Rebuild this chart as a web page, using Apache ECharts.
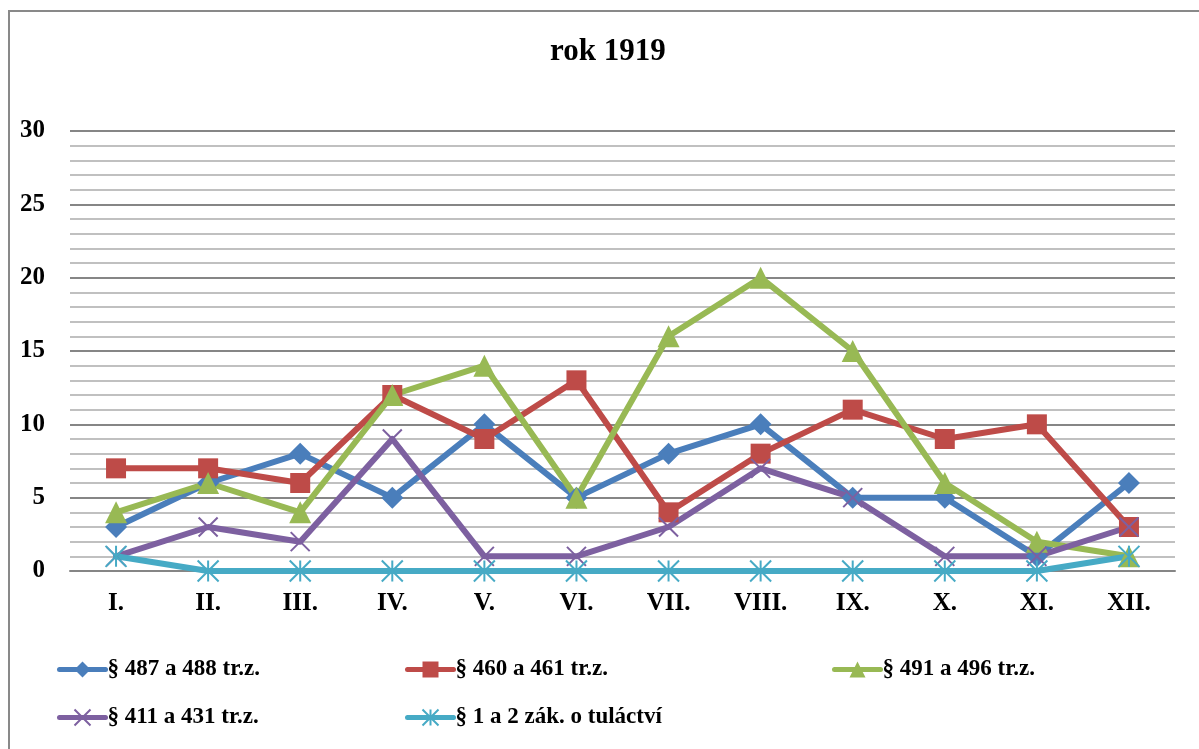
<!DOCTYPE html>
<html>
<head>
<meta charset="utf-8">
<script src="https://cdn.jsdelivr.net/npm/echarts@6/dist/echarts.min.js"></script>
<style>
html,body{margin:0;padding:0;background:#fff;}
#chart{width:1199px;height:749px;}
</style>
</head>
<body>
<div id="chart"></div>
<script>
// Monthly counts of offences, year 1919
const months = ['I.', 'II.', 'III.', 'IV.', 'V.', 'VI.', 'VII.', 'VIII.', 'IX.', 'X.', 'XI.', 'XII.'];
const s487 = [3, 6, 8, 5, 10, 5, 8, 10, 5, 5, 1, 6];
const s460 = [7, 7, 6, 12, 9, 13, 4, 8, 11, 9, 10, 3];
const s491 = [4, 6, 4, 12, 14, 5, 16, 20, 15, 6, 2, 1];
const s411 = [1, 3, 2, 9, 1, 1, 3, 7, 5, 1, 1, 3];
const s1 = [1, 0, 0, 0, 0, 0, 0, 0, 0, 0, 0, 1];
const seriesNames = ['§ 487 a 488 tr.z.', '§ 460 a 461 tr.z.', '§ 491 a 496 tr.z.', '§ 411 a 431 tr.z.', '§ 1 a 2 zák. o tuláctví'];

const FONT = '"Liberation Serif", "Times New Roman", serif';
const colors = ['#4A7EBB', '#BE4B48', '#98B954', '#7D60A0', '#46AAC5'];
const crossPath = 'path://M0,0L20,20M20,0L0,20';
const starPath = 'path://M0,0L20,20M20,0L0,20M10,0L10,20';

function lineSeries(name, data, color, symbol, size, strokeOnly) {
  return {
    name: name,
    type: 'line',
    data: data,
    symbol: symbol,
    symbolSize: size,
    showAllSymbol: true,
    lineStyle: { color: color, width: 6, cap: 'round', join: 'round' },
    itemStyle: strokeOnly
      ? { color: color, borderColor: color, borderWidth: 2 }
      : { color: color, borderWidth: 0 },
    emphasis: { disabled: true },
    animation: false
  };
}

function legendAt(name, left, top) {
  return {
    data: [name],
    left: left,
    top: top,
    itemWidth: 46,
    itemHeight: 20,
    itemGap: 0,
    padding: 0,
    lineStyle: { width: 5, cap: 'round' },
    textStyle: { fontFamily: FONT, fontWeight: 'bold', fontSize: 23, color: '#000', padding: [0, 0, 0, -3] },
    selectedMode: false
  };
}

const chart = echarts.init(document.getElementById('chart'), null, { renderer: 'canvas' });
chart.setOption({
  backgroundColor: '#fff',
  animation: false,
  title: {
    text: 'rok 1919',
    left: 545,
    top: 31,
    textStyle: { fontFamily: FONT, fontWeight: 'bold', fontSize: 31, color: '#000' }
  },
  graphic: [{
    type: 'rect',
    shape: { x: 9, y: 11, width: 1300, height: 900 },
    style: { fill: 'none', stroke: '#898989', lineWidth: 2 },
    silent: true
  }],
  grid: { left: 70, right: 24, top: 131, bottom: 178, containLabel: false },
  legend: [
    legendAt(seriesNames[0], 57, 658),
    legendAt(seriesNames[1], 405, 658),
    legendAt(seriesNames[2], 832, 658),
    legendAt(seriesNames[3], 57, 706),
    legendAt(seriesNames[4], 405, 706)
  ],
  xAxis: {
    type: 'category',
    data: months,
    boundaryGap: true,
    axisLine: { show: true, lineStyle: { color: '#868686', width: 2 } },
    axisTick: { show: false },
    axisLabel: { fontFamily: FONT, fontWeight: 'bold', fontSize: 25, color: '#000', margin: 20 },
    splitLine: { show: false }
  },
  yAxis: {
    type: 'value',
    min: 0,
    max: 30,
    interval: 5,
    axisLine: { show: false },
    axisTick: { show: false },
    axisLabel: { fontFamily: FONT, fontWeight: 'bold', fontSize: 25, color: '#000', margin: 25 },
    splitLine: { show: true, lineStyle: { color: '#868686', width: 2 } },
    minorTick: { show: false, splitNumber: 5 },
    minorSplitLine: { show: true, lineStyle: { color: '#C0C0C0', width: 2 } }
  },
  series: [
    lineSeries(seriesNames[0], s487, colors[0], 'diamond', 22, false),
    lineSeries(seriesNames[1], s460, colors[1], 'rect', 20, false),
    lineSeries(seriesNames[2], s491, colors[2], 'triangle', 22, false),
    lineSeries(seriesNames[3], s411, colors[3], crossPath, 19, true),
    lineSeries(seriesNames[4], s1, colors[4], starPath, 21, true)
  ]
});
</script>
</body>
</html>
